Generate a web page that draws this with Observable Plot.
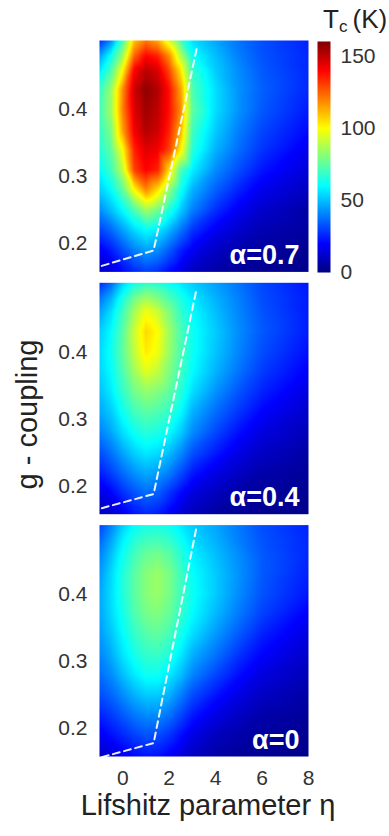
<!DOCTYPE html>
<html>
<head>
<meta charset="utf-8">
<script src="https://cdn.jsdelivr.net/npm/d3@7"></script>
<script src="https://cdn.jsdelivr.net/npm/@observablehq/plot@0.6"></script>
<style>
  html, body { margin: 0; padding: 0; background: #fff; }
  #fig { position: relative; width: 389px; height: 836px; overflow: hidden; font-family: "Liberation Sans", Arial, sans-serif; color: #222; }
  #fig > div, #fig > svg { position: absolute; }
  .lbl { font-size: 29px; line-height: 29px; white-space: nowrap; text-align: center; }
</style>
</head>
<body>
<div id="fig"></div>
<script>
// ---- data ----
const panels = ["α=0.7", "α=0.4", "α=0"];
const etaGrid = [-1, -0.5, 0, 0.5, 1, 1.5, 2, 2.5, 3, 4, 5, 6, 8];
const gGrid = [0.155, 0.19, 0.22, 0.25, 0.28, 0.31, 0.34, 0.37, 0.40, 0.43, 0.46, 0.48, 0.505];

// Tc (K); rows follow gGrid, columns follow etaGrid
const tcAlpha07 = [
  [10, 14, 20, 25, 28, 26, 20, 15, 10, 6, 4, 3, 2],
  [18, 24, 32, 40, 45, 42, 34, 25, 18, 11, 7, 5, 3],
  [30, 36, 45, 54, 60, 57, 48, 38, 28, 18, 12, 8, 5],
  [42, 50, 60, 72, 85, 78, 65, 52, 40, 27, 18, 12, 6],
  [52, 60, 75, 100, 118, 105, 82, 62, 48, 35, 25, 17, 10],
  [60, 70, 90, 130, 140, 135, 105, 72, 58, 42, 32, 23, 14],
  [65, 75, 100, 135, 145, 142, 130, 102, 66, 48, 37, 28, 17],
  [68, 80, 115, 142, 152, 148, 135, 112, 70, 52, 40, 31, 21],
  [70, 85, 120, 145, 155, 150, 138, 118, 75, 55, 43, 34, 24],
  [68, 84, 118, 148, 157, 152, 138, 115, 72, 55, 43, 35, 26],
  [55, 72, 100, 140, 150, 145, 128, 103, 68, 52, 42, 34, 26],
  [45, 62, 85, 125, 140, 135, 118, 88, 62, 50, 40, 33, 26],
  [25, 40, 70, 108, 120, 112, 92, 70, 55, 46, 38, 32, 25]
];
const tcAlpha04 = [
  [8, 12, 17, 22, 25, 23, 18, 13, 9, 5, 4, 3, 2],
  [15, 20, 27, 33, 37, 35, 28, 21, 15, 10, 6, 4, 3],
  [24, 30, 37, 43, 47, 45, 40, 32, 24, 16, 11, 7, 4],
  [32, 38, 46, 53, 57, 55, 50, 42, 33, 24, 16, 11, 6],
  [40, 46, 55, 62, 66, 64, 60, 52, 42, 31, 22, 15, 9],
  [46, 52, 62, 70, 74, 72, 68, 60, 48, 37, 28, 20, 12],
  [50, 57, 68, 78, 83, 80, 75, 66, 55, 43, 33, 25, 15],
  [53, 60, 72, 85, 95, 90, 80, 70, 60, 48, 38, 29, 19],
  [54, 62, 75, 90, 103, 98, 84, 72, 62, 51, 41, 32, 22],
  [52, 60, 74, 92, 106, 100, 85, 72, 62, 52, 42, 34, 24],
  [45, 55, 70, 86, 98, 92, 80, 68, 60, 50, 41, 33, 24],
  [38, 48, 64, 78, 85, 80, 72, 64, 57, 48, 40, 32, 24],
  [25, 35, 52, 62, 66, 64, 60, 56, 52, 45, 38, 31, 23]
];
const tcAlpha0 = [
  [10, 13, 17, 20, 22, 21, 18, 14, 10, 6, 4, 3, 2],
  [18, 22, 26, 30, 33, 32, 28, 22, 16, 10, 7, 5, 3],
  [25, 29, 34, 39, 42, 42, 38, 31, 24, 16, 11, 7, 4],
  [32, 36, 42, 48, 52, 52, 48, 40, 32, 23, 16, 11, 6],
  [37, 42, 50, 57, 62, 62, 57, 50, 41, 31, 22, 15, 9],
  [41, 47, 56, 63, 68, 69, 65, 57, 48, 38, 28, 20, 12],
  [44, 51, 60, 68, 73, 75, 71, 63, 55, 44, 34, 25, 15],
  [46, 54, 63, 72, 78, 80, 76, 68, 60, 49, 39, 30, 19],
  [46, 55, 65, 74, 81, 84, 79, 70, 62, 52, 42, 33, 23],
  [44, 54, 65, 74, 81, 84, 79, 70, 61, 52, 43, 34, 25],
  [40, 50, 62, 70, 76, 78, 74, 66, 58, 50, 42, 34, 26],
  [36, 46, 58, 66, 70, 71, 68, 62, 55, 48, 40, 33, 26],
  [30, 40, 52, 60, 63, 63, 61, 57, 52, 46, 39, 32, 25]
];

// dashed boundary lines
const lineEta07 = [-0.9, 1.33, 3.18];
const lineG07 = [0.167, 0.19, 0.49];
const lineEta04 = [-0.9, 1.33, 3.15];
const lineG04 = [0.167, 0.188, 0.489];
const lineEta0 = [-0.9, 1.33, 3.16];
const lineG0 = [0.157, 0.178, 0.497];

const xTicks = [0, 2, 4, 6, 8];
const yTicks = [0.2, 0.3, 0.4];
const cbTicks = [0, 50, 100, 150];

// ---- build tables ----
const grids = [tcAlpha07, tcAlpha04, tcAlpha0];
const heat = [];
grids.forEach((grid, p) => {
  grid.forEach((row, i) => row.forEach((v, j) => {
    heat.push({panel: panels[p], eta: etaGrid[j], g: gGrid[i], tc: v});
  }));
});
const lines = [];
[[lineEta07, lineG07], [lineEta04, lineG04], [lineEta0, lineG0]].forEach(([es, gs], p) => {
  es.forEach((e, i) => lines.push({panel: panels[p], eta: e, g: gs[i]}));
});
const labels = panels.map(p => ({panel: p}));

const jetStops = [0, 20, 60, 100, 140, 160];
const jetColors = ["#00007f", "#0000ff", "#00ffff", "#ffff00", "#ff0000", "#7f0000"];
const colorOpts = {type: "linear", domain: jetStops, range: jetColors, interpolate: "rgb", clamp: true};
const font = "Liberation Sans, Arial, sans-serif";

const main = Plot.plot({
  width: 330, height: 836,
  marginLeft: 99, marginRight: 22, marginTop: 40, marginBottom: 80,
  style: {fontFamily: font, background: "transparent"},
  x: {domain: [-1, 8]},
  y: {domain: [0.158, 0.503]},
  fy: {domain: panels, paddingInner: 0.045, paddingOuter: 0, round: false, axis: null, label: null},
  color: colorOpts,
  marks: [
    Plot.raster(heat, {x: "eta", y: "g", fill: "tc", fy: "panel", interpolate: "barycentric"}),
    Plot.line(lines, {x: "eta", y: "g", z: "panel", fy: "panel", stroke: "white", strokeWidth: 2, strokeDasharray: "7,4.5", strokeOpacity: 0.92}),
    Plot.text(labels, {fy: "panel", text: "panel", frameAnchor: "bottom-right", dx: -9, dy: -8, lineAnchor: "bottom", textAnchor: "end", fill: "white", fontSize: 27, fontWeight: "bold", fontFamily: font}),
    Plot.axisY({ticks: yTicks, tickFormat: d3.format(".1f"), tickSize: 0, tickPadding: 12, fontSize: 21, label: null, color: "#333"}),
    Plot.axisX({ticks: xTicks, tickSize: 0, tickPadding: 14, fontSize: 21, label: null, color: "#333"})
  ]
});
main.style.left = "0px";
main.style.top = "0px";

const cbar = Plot.plot({
  width: 89, height: 252,
  marginLeft: 17, marginRight: 59, marginTop: 11, marginBottom: 10,
  style: {fontFamily: font, background: "transparent"},
  x: {domain: [0, 1], axis: null},
  y: {domain: [0, 160]},
  color: colorOpts,
  marks: [
    Plot.raster({fill: (x, y) => y, x1: 0, x2: 1, y1: 0, y2: 160}),
    Plot.axisY({anchor: "right", ticks: cbTicks, tickSize: 0, tickPadding: 10, fontSize: 21, label: null, color: "#333"})
  ]
});
cbar.style.left = "300px";
cbar.style.top = "30px";

const fig = document.getElementById("fig");
fig.appendChild(main);
fig.appendChild(cbar);

// colorbar title
const t = document.createElement("div");
t.innerHTML = 'T<sub style="font-size:17px;vertical-align:-4px;">c</sub>&thinsp;(K)';
t.style.cssText = "left:323px;top:6px;font-size:26px;line-height:26px;white-space:nowrap;color:#222;";
fig.appendChild(t);

// y label
const yl = document.createElement("div");
yl.className = "lbl";
yl.textContent = "g - coupling";
yl.style.cssText += "left:-73px;top:399.5px;width:200px;transform:rotate(-90deg);transform-origin:50% 50%;";
fig.appendChild(yl);

// x label
const xl = document.createElement("div");
xl.className = "lbl";
xl.textContent = "Lifshitz parameter η";
xl.style.cssText += "left:8px;top:791px;width:400px;";
fig.appendChild(xl);
</script>
</body>
</html>
